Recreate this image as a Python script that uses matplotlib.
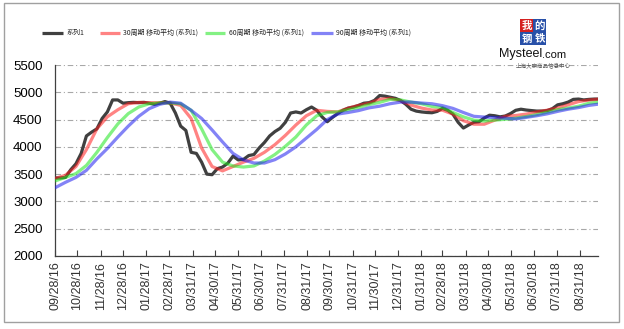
import matplotlib
matplotlib.use("Agg")
import matplotlib.pyplot as plt
import matplotlib.dates as mdates
from matplotlib.lines import Line2D
from matplotlib.patches import Rectangle
import pandas as pd

plt.rcParams['font.family'] = ['Liberation Sans', 'Noto Sans CJK SC', 'DejaVu Sans']

# Weekly price series (系列1), starting 2016-09-28
series1 = [3430, 3430, 3440, 3580, 3690, 3880, 4200, 4270, 4330, 4520,
           4640, 4860, 4860, 4800, 4810, 4815, 4810, 4815, 4800, 4780,
           4800, 4830, 4800, 4620, 4380, 4300, 3900, 3880, 3720, 3500,
           3490, 3600, 3630, 3700, 3830, 3760, 3770, 3840, 3860, 3980,
           4080, 4200, 4280, 4340, 4450, 4620, 4640, 4620, 4680, 4730,
           4670, 4550, 4460, 4540, 4610, 4670, 4710, 4730, 4760, 4800,
           4810, 4850, 4940, 4930, 4910, 4890, 4850, 4780, 4690, 4655,
           4640, 4630, 4625, 4650, 4705, 4670, 4600, 4450, 4345, 4400,
           4450, 4460, 4530, 4580, 4570, 4550, 4565, 4610, 4670, 4690,
           4675, 4665, 4656, 4656, 4665, 4700, 4770, 4790, 4820, 4870,
           4876, 4860, 4870, 4876, 4876]

# Moving averages, sampled every two weeks from 2016-09-28
ma30 = [3420, 3480, 3640, 3950, 4330, 4550, 4680, 4790, 4815, 4810,
        4810, 4805, 4760, 4520, 3980, 3640, 3560, 3640, 3720, 3790,
        3900, 4040, 4210, 4400, 4570, 4670, 4650, 4640, 4710, 4760,
        4800, 4870, 4890, 4845, 4766, 4711, 4675, 4672, 4600, 4480,
        4415, 4415, 4490, 4560, 4575, 4600, 4640, 4672, 4715, 4770,
        4830, 4858, 4876]
ma60 = [3375, 3440, 3510, 3660, 3900, 4170, 4420, 4610, 4730, 4790,
        4805, 4805, 4790, 4670, 4330, 3950, 3720, 3650, 3630, 3650,
        3740, 3860, 4010, 4180, 4400, 4570, 4630, 4640, 4680, 4720,
        4775, 4815, 4870, 4860, 4820, 4790, 4740, 4720, 4630, 4550,
        4490, 4473, 4490, 4505, 4525, 4555, 4590, 4635, 4680, 4710,
        4745, 4800, 4821]
ma90 = [3250, 3350, 3440, 3570, 3780, 3970, 4180, 4380, 4560, 4700,
        4780, 4820, 4800, 4670, 4520, 4310, 4090, 3880, 3760, 3704,
        3704, 3765, 3870, 4000, 4160, 4320, 4500, 4600, 4630, 4665,
        4715, 4745, 4790, 4820, 4820, 4803, 4790, 4755, 4705, 4630,
        4560, 4546, 4537, 4525, 4512, 4540, 4570, 4605, 4650, 4690,
        4720, 4760, 4785]

tick_dates = ['2016-09-28', '2016-10-28', '2016-11-28', '2016-12-28',
              '2017-01-28', '2017-02-28', '2017-03-31', '2017-04-30',
              '2017-05-31', '2017-06-30', '2017-07-31', '2017-08-31',
              '2017-09-30', '2017-10-31', '2017-11-30', '2017-12-31',
              '2018-01-31', '2018-02-28', '2018-03-31', '2018-04-30',
              '2018-05-31', '2018-06-30', '2018-07-31', '2018-08-31']
tick_labels = [pd.Timestamp(d).strftime('%m/%d/%y') for d in tick_dates]

legend_labels = ['系列1', '30周期 移动平均 (系列1)', '60周期 移动平均 (系列1)',
                 '90周期 移动平均 (系列1)']
y_ticks = [2000, 2500, 3000, 3500, 4000, 4500, 5000, 5500]

d1 = pd.date_range('2016-09-28', periods=len(series1), freq='7D')
d2 = pd.date_range('2016-09-28', periods=len(ma30), freq='14D')

W, H = 624, 329
fig = plt.figure(figsize=(W / 100, H / 100), dpi=100)
ax = fig.add_axes([55 / W, 1 - 256 / H, (598 - 55) / W, (256 - 65) / H])

col_black = '#404040'
line_kw = dict(lw=2.3, solid_capstyle='butt', solid_joinstyle='round')
ax.plot(d1, series1, color=col_black, zorder=3, **line_kw)
ma_colors = ['#ff1e1e', '#1ee61e', '#1e1ef0']
for vals, c in zip([ma30, ma60, ma90], ma_colors):
    ax.plot(d2, vals, color=c, alpha=0.55, zorder=4, **line_kw)

ax.set_ylim(2000, 5500)
ax.set_yticks(y_ticks)
ax.set_xlim(pd.Timestamp('2016-09-28'), pd.Timestamp('2018-09-24'))
ax.set_xticks([pd.Timestamp(d) for d in tick_dates])
ax.set_xticklabels(tick_labels, rotation=90, fontsize=9, color='#333333')
ax.tick_params(axis='x', direction='in', length=4, width=0.8, color='#404040', pad=4)
ax.tick_params(axis='y', direction='in', length=0, labelsize=9.5, pad=9)

ax.grid(axis='y', color='#a8a8a8', lw=0.8, linestyle=(0, (5, 2.5, 1, 2.5)))
for s in ['top', 'right']:
    ax.spines[s].set_visible(False)
for s in ['left', 'bottom']:
    ax.spines[s].set_color('#404040')
    ax.spines[s].set_linewidth(0.9)

# Outer frame of the chart
fig.patches.append(Rectangle((4 / W, 1 - 322 / H), (619 - 4) / W, (322 - 3) / H,
                             transform=fig.transFigure, fill=False,
                             edgecolor='#a0a0a0', lw=1.0))

# Legend row
leg_y = 1 - 33 / H
entries = [(42, 63, 67), (100, 120, 123), (205, 225, 229), (311, 333, 336)]
leg_colors = [col_black] + ma_colors
for (x0, x1, xt), c, lab in zip(entries, leg_colors, legend_labels):
    fig.add_artist(Line2D([x0 / W, x1 / W], [leg_y, leg_y], transform=fig.transFigure,
                          color=c, lw=2.3, alpha=1 if c == col_black else 0.55,
                          solid_capstyle='butt'))
    fig.text(xt / W, leg_y, lab, fontsize=5, va='center', ha='left', color='#222222',
             family=['Noto Sans CJK SC', 'Liberation Sans'])

# Site logo
sq = [(520, 19, '我', '#d42020'), (533, 19, '的', '#2850a8'),
      (520, 32, '钢', '#2850a8'), (533, 32, '铁', '#2850a8')]
for x, y, ch, c in sq:
    fig.patches.append(Rectangle((x / W, 1 - (y + 13) / H), 13 / W, 13 / H,
                                 transform=fig.transFigure, color=c, lw=0))
    fig.text((x + 6.5) / W, 1 - (y + 6.5) / H, ch, fontsize=7.5, color='white',
             ha='center', va='center', family=['Noto Sans CJK SC'], fontweight='bold')
fig.text(542 / W, 1 - 54 / H, 'Mysteel', fontsize=9, ha='right', va='center',
         color='#111111')
fig.text(542 / W, 1 - 55 / H, '.com', fontsize=8, ha='left', va='center',
         color='#111111')
fig.text(543 / W, 1 - 66 / H, '上海大宗商品信息中心', fontsize=4, ha='center',
         va='center', color='#555555', family=['Noto Sans CJK SC'])

fig.savefig('out.png', dpi=100, facecolor='white')
